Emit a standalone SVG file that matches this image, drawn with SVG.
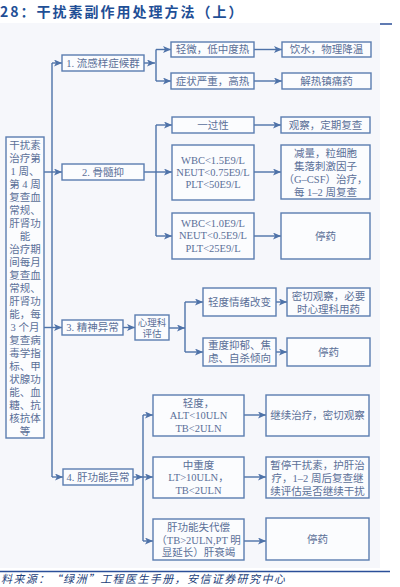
<svg xmlns="http://www.w3.org/2000/svg" width="400" height="587" viewBox="0 0 400 587">
<defs>
<marker id="ah" markerWidth="8" markerHeight="7" refX="8" refY="3.5" orient="auto" markerUnits="userSpaceOnUse">
<path d="M0,0 L8,3.5 L0,7 L2,3.5 z" fill="#4e72a8"/>
</marker>
<style>
.bx{fill:#fbfcfe;stroke:#5b7db0;stroke-width:1.4}
.ln{fill:none;stroke:#4e72a8;stroke-width:1.4}
.ar{fill:none;stroke:#4e72a8;stroke-width:1.4;marker-end:url(#ah)}
.t{font-family:"Liberation Serif","Noto Sans CJK SC",serif;font-size:10.5px;fill:#5a6f98;text-anchor:middle;dominant-baseline:central}
.title{font-family:"Noto Sans CJK SC",sans-serif;font-size:14px;font-weight:bold;fill:#1f4f96;letter-spacing:2px}
.src{font-family:"Noto Sans CJK SC",sans-serif;font-size:11px;font-style:italic;fill:#23417a;letter-spacing:1.4px}
</style>
</defs>
<rect x="0" y="0" width="400" height="587" fill="#ffffff"/>
<rect x="0" y="23" width="380" height="545" fill="#f6f7fb"/>
<line x1="380" y1="24" x2="392" y2="24" stroke="#2b4f99" stroke-width="1.5"/>
<line x1="0" y1="571.5" x2="390" y2="571.5" stroke="#2b4f99" stroke-width="1.5"/>
<text class="title" x="0" y="17">28：干扰素副作用处理方法（上）</text>
<text class="src" x="1" y="583">料来源：“绿洲”工程医生手册，安信证券研究中心</text>

<g id="connectors">
<polyline class="ln" points="52,477 52,63"/>
<line class="ar" x1="52" y1="63" x2="62" y2="63"/>
<line class="ar" x1="44" y1="172" x2="62" y2="172"/>
<line class="ar" x1="44" y1="327.5" x2="62" y2="327.5"/>
<line class="ar" x1="52" y1="477" x2="63" y2="477"/>

<line class="ar" x1="144" y1="63" x2="155" y2="63"/>
<line class="ln" x1="156" y1="49.5" x2="156" y2="81"/>
<line class="ar" x1="156" y1="49.5" x2="171" y2="49.5"/>
<line class="ar" x1="156" y1="81" x2="171" y2="81"/>
<line class="ar" x1="254" y1="49.5" x2="282" y2="49.5"/>
<line class="ar" x1="254" y1="81" x2="282" y2="81"/>

<line class="ar" x1="144" y1="172" x2="172" y2="172"/>
<line class="ln" x1="156" y1="125" x2="156" y2="236"/>
<line class="ar" x1="156" y1="125" x2="172" y2="125"/>
<line class="ar" x1="156" y1="236" x2="172" y2="236"/>
<line class="ar" x1="254" y1="125" x2="281" y2="125"/>
<line class="ar" x1="254" y1="172" x2="281" y2="172"/>
<line class="ar" x1="254" y1="236" x2="281" y2="236"/>

<line class="ar" x1="123" y1="327.5" x2="135" y2="327.5"/>
<line class="ar" x1="169" y1="328" x2="185" y2="328"/>
<line class="ln" x1="185" y1="302" x2="185" y2="352"/>
<line class="ar" x1="185" y1="302" x2="203" y2="302"/>
<line class="ar" x1="185" y1="352" x2="203" y2="352"/>
<line class="ar" x1="276" y1="302" x2="287" y2="302"/>
<line class="ar" x1="276" y1="352" x2="287" y2="352"/>

<line class="ar" x1="133" y1="477" x2="143" y2="477"/>
<line class="ln" x1="143" y1="415" x2="143" y2="541"/>
<line class="ar" x1="143" y1="415" x2="153" y2="415"/>
<line class="ar" x1="143" y1="477" x2="153" y2="477"/>
<line class="ar" x1="143" y1="541" x2="153" y2="541"/>
<line class="ar" x1="244" y1="415" x2="266" y2="415"/>
<line class="ar" x1="244" y1="477" x2="266" y2="477"/>
<line class="ar" x1="244" y1="541" x2="266" y2="541"/>
</g>

<g id="left">
<rect class="bx" x="6" y="137" width="38" height="301"/>
<text class="t" x="25" y="145">干扰素</text>
<text class="t" x="25" y="158">治疗第</text>
<text class="t" x="25" y="171">1 周、</text>
<text class="t" x="25" y="184">第 4 周</text>
<text class="t" x="25" y="197">复查血</text>
<text class="t" x="25" y="210">常规、</text>
<text class="t" x="25" y="223">肝肾功</text>
<text class="t" x="25" y="236">能</text>
<text class="t" x="25" y="249">治疗期</text>
<text class="t" x="25" y="262">间每月</text>
<text class="t" x="25" y="275">复查血</text>
<text class="t" x="25" y="288">常规、</text>
<text class="t" x="25" y="301">肝肾功</text>
<text class="t" x="25" y="314">能，每</text>
<text class="t" x="25" y="327">3 个月</text>
<text class="t" x="25" y="340">复查病</text>
<text class="t" x="25" y="353">毒学指</text>
<text class="t" x="25" y="366">标、甲</text>
<text class="t" x="25" y="379">状腺功</text>
<text class="t" x="25" y="392">能、血</text>
<text class="t" x="25" y="405">糖、抗</text>
<text class="t" x="25" y="418">核抗体</text>
<text class="t" x="25" y="431">等</text>
</g>

<g id="n1">
<rect class="bx" x="62" y="55" width="82" height="16"/>
<text class="t" x="103" y="63">1. 流感样症候群</text>
</g>
<g id="n1a">
<rect class="bx" x="171" y="42" width="83" height="15"/>
<text class="t" x="212.5" y="49.5">轻微，低中度热</text>
</g>
<g id="n1a2">
<rect class="bx" x="282" y="42" width="89" height="15"/>
<text class="t" x="326.5" y="49.5">饮水，物理降温</text>
</g>
<g id="n1b">
<rect class="bx" x="171" y="73" width="83" height="16"/>
<text class="t" x="212.5" y="81">症状严重，高热</text>
</g>
<g id="n1b2">
<rect class="bx" x="282" y="73" width="89" height="16"/>
<text class="t" x="326.5" y="81">解热镇痛药</text>
</g>

<g id="n2">
<rect class="bx" x="62" y="164" width="82" height="16"/>
<text class="t" x="103" y="172">2. 骨髓抑</text>
</g>
<g id="n2a">
<rect class="bx" x="172" y="117" width="82" height="16"/>
<text class="t" x="213" y="125">一过性</text>
</g>
<g id="n2a2">
<rect class="bx" x="281" y="117" width="89" height="16"/>
<text class="t" x="325.5" y="125">观察，定期复查</text>
</g>
<g id="n2b">
<rect class="bx" x="172" y="145" width="82" height="55"/>
<text class="t" x="213" y="160">WBC&lt;1.5E9/L</text>
<text class="t" x="213" y="172">NEUT&lt;0.75E9/L</text>
<text class="t" x="213" y="184">PLT&lt;50E9/L</text>
</g>
<g id="n2b2">
<rect class="bx" x="281" y="145" width="89" height="54"/>
<text class="t" x="325.5" y="153">减量，粒细胞</text>
<text class="t" x="325.5" y="166">集落刺激因子</text>
<text class="t" x="325.5" y="179">（G–CSF）治疗，</text>
<text class="t" x="325.5" y="192">每 1–2 周复查</text>
</g>
<g id="n2c">
<rect class="bx" x="172" y="213" width="82" height="46"/>
<text class="t" x="213" y="223">WBC&lt;1.0E9/L</text>
<text class="t" x="213" y="235.5">NEUT&lt;0.5E9/L</text>
<text class="t" x="213" y="248">PLT&lt;25E9/L</text>
</g>
<g id="n2c2">
<rect class="bx" x="281" y="213" width="89" height="46"/>
<text class="t" x="325.5" y="236">停药</text>
</g>

<g id="n3">
<rect class="bx" x="62" y="320" width="61" height="15"/>
<text class="t" x="92.5" y="327.5">3. 精神异常</text>
</g>
<g id="n3p">
<rect class="bx" x="135" y="315" width="34" height="25"/>
<text class="t" x="152" y="322.5" style="font-size:9.5px">心理科</text>
<text class="t" x="152" y="333.5" style="font-size:9.5px">评估</text>
</g>
<g id="n3a">
<rect class="bx" x="203" y="288" width="73" height="28"/>
<text class="t" x="239.5" y="302">轻度情绪改变</text>
</g>
<g id="n3a2">
<rect class="bx" x="287" y="288" width="83" height="28"/>
<text class="t" x="328.5" y="296">密切观察，必要</text>
<text class="t" x="328.5" y="309">时心理科用药</text>
</g>
<g id="n3b">
<rect class="bx" x="203" y="338" width="73" height="28"/>
<text class="t" x="239.5" y="345.5">重度抑郁、焦</text>
<text class="t" x="239.5" y="358.5">虑、自杀倾向</text>
</g>
<g id="n3b2">
<rect class="bx" x="287" y="338" width="83" height="28"/>
<text class="t" x="328.5" y="352">停药</text>
</g>

<g id="n4">
<rect class="bx" x="63" y="469" width="70" height="16"/>
<text class="t" x="98" y="477">4. 肝功能异常</text>
</g>
<g id="n4a">
<rect class="bx" x="153" y="395" width="91" height="41"/>
<text class="t" x="198.5" y="403">轻度，</text>
<text class="t" x="198.5" y="415.5">ALT&lt;10ULN</text>
<text class="t" x="198.5" y="428">TB&lt;2ULN</text>
</g>
<g id="n4a2">
<rect class="bx" x="266" y="395" width="103" height="41"/>
<text class="t" x="317.5" y="415.5">继续治疗，密切观察</text>
</g>
<g id="n4b">
<rect class="bx" x="153" y="457" width="91" height="41"/>
<text class="t" x="198.5" y="465">中重度</text>
<text class="t" x="198.5" y="477.5">LT&gt;10ULN，</text>
<text class="t" x="198.5" y="490">TB&lt;2ULN</text>
</g>
<g id="n4b2">
<rect class="bx" x="266" y="457" width="103" height="41"/>
<text class="t" x="317.5" y="465">暂停干扰素，护肝治</text>
<text class="t" x="317.5" y="478">疗，1–2 周后复查继</text>
<text class="t" x="317.5" y="491">续评估是否继续干扰</text>
</g>
<g id="n4c">
<rect class="bx" x="153" y="519" width="91" height="41"/>
<text class="t" x="198.5" y="527">肝功能失代偿</text>
<text class="t" x="198.5" y="540">（TB&gt;2ULN,PT 明</text>
<text class="t" x="198.5" y="552">显延长）肝衰竭</text>
</g>
<g id="n4c2">
<rect class="bx" x="266" y="518" width="103" height="42"/>
<text class="t" x="317.5" y="539">停药</text>
</g>
</svg>
